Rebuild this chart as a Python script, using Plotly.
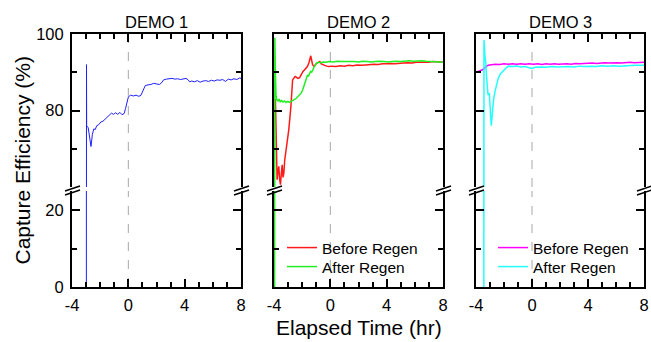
import plotly.graph_objects as go

# ---------------- data ----------------
panel_titles = ["DEMO 1", "DEMO 2", "DEMO 3"]
x_ticks = [-4, 0, 4, 8]
x_tick_text = ["-4", "0", "4", "8"]
x_minor = [-3, -2, -1, 1, 2, 3, 5, 6, 7]
upper_ticks = [80, 100]
upper_minor = [70, 90]
lower_ticks = [0, 20]
lower_minor = [10]

demo1_x = [-2.98, -2.97, -2.96, -2.85, -2.72, -2.65, -2.55, -2.45, -2.35, -2.25, -2.10, -1.95, -1.80, -1.65,
           -1.50, -1.35, -1.20, -1.05, -0.90, -0.75, -0.60, -0.45, -0.30, -0.20, -0.10, 0.00, 0.15, 0.35,
           0.55, 0.75, 0.90, 1.05, 1.20, 1.40, 1.60, 1.80, 2.00, 2.20, 2.35, 2.50, 2.70, 2.90, 3.10, 3.30,
           3.50, 3.70, 3.90, 4.10, 4.25, 4.35, 4.50, 4.70, 4.90, 5.10, 5.30, 5.50, 5.70, 5.90, 6.10, 6.30,
           6.50, 6.70, 6.90, 7.10, 7.30, 7.50, 7.70, 7.90, 8.00]
demo1_y = [0.0, 92.0, 76.0, 75.5, 72.0, 70.6, 73.8, 75.2, 75.0, 76.0, 76.3, 77.0, 77.2, 77.8,
           78.3, 78.8, 79.3, 79.0, 79.4, 79.0, 79.5, 78.9, 79.2, 80.5, 82.5, 83.5, 84.0, 83.8,
           84.0, 83.7, 84.0, 85.5, 86.5, 86.7, 86.8, 87.1, 87.0, 86.8, 87.2, 88.0, 88.2, 88.3, 88.4, 88.2,
           88.3, 88.1, 88.3, 88.4, 88.0, 87.5, 87.7, 87.5, 87.8, 87.4, 87.7, 87.8, 87.6, 87.9, 87.7, 88.0,
           87.9, 88.1, 87.6, 88.2, 88.0, 88.3, 88.1, 88.5, 88.4]

demo2_before_x = [-3.90, -3.86, -3.84, -3.78, -3.72, -3.66, -3.60, -3.54, -3.48, -3.42, -3.36, -3.30, -3.24,
                  -3.10, -2.95, -2.80, -2.68, -2.60, -2.50, -2.42, -2.30, -2.18, -2.06, -1.94, -1.84, -1.74,
                  -1.63, -1.52, -1.45, -1.39, -1.33, -1.26, -1.18, -1.08, -0.99, -0.88, -0.75, -0.64, -0.52,
                  -0.40, -0.25, -0.10, 0.10, 0.40, 0.70, 1.00, 1.30, 1.60, 1.90, 2.20, 2.50, 2.80, 3.10,
                  3.40, 3.70, 4.00, 4.30, 4.60, 4.90, 5.20, 5.50, 5.80, 6.10, 6.40, 6.70, 7.00, 7.30, 7.60,
                  7.90, 8.00]
demo2_before_y = [83.0, 72.0, 67.0, 61.9, 64.0, 65.4, 62.0, 60.6, 63.5, 65.8, 62.5, 63.7, 67.0,
                  71.0, 75.0, 81.0, 88.0, 88.4, 88.9, 88.7, 88.4, 88.6, 89.5, 90.2, 90.6, 91.0,
                  91.5, 92.5, 93.6, 94.3, 93.2, 92.0, 91.6, 91.8, 92.3, 92.6, 92.8, 92.2, 91.9,
                  91.8, 91.6, 91.5, 91.6, 91.5, 91.7, 91.6, 91.8, 91.7, 91.9, 91.8, 91.9, 92.0, 92.1,
                  92.0, 92.2, 92.2, 92.3, 92.2, 92.4, 92.4, 92.5, 92.4, 92.6, 92.6, 92.7, 92.6, 92.8, 92.7,
                  92.7, 92.6]
demo2_after_x = [-3.96, -3.94, -3.90, -3.86, -3.80, -3.72, -3.64, -3.56, -3.46, -3.36, -3.26, -3.14, -3.02,
                 -2.90, -2.78, -2.66, -2.54, -2.42, -2.30, -2.18, -2.06, -1.96, -1.86, -1.78, -1.70, -1.62,
                 -1.56, -1.48, -1.40, -1.32, -1.24, -1.16, -1.08, -0.98, -0.86, -0.70, -0.50, -0.30, -0.10,
                 0.20, 0.50, 0.80, 1.10, 1.40, 1.70, 2.00, 2.30, 2.60, 2.90, 3.20, 3.50, 3.80, 4.10, 4.40,
                 4.70, 5.00, 5.30, 5.60, 5.90, 6.20, 6.50, 6.80, 7.10, 7.40, 7.70, 8.00]
demo2_after_y = [0.0, 99.0, 90.0, 84.0, 82.8, 82.5, 83.0, 82.3, 82.6, 82.2, 82.5, 82.1, 82.4,
                 82.1, 82.3, 82.6, 82.9, 83.2, 83.6, 84.1, 84.6, 85.4, 86.5, 87.6, 88.8, 89.3,
                 88.9, 89.6, 90.2, 90.0, 90.8, 91.5, 91.9, 92.4, 92.6, 92.5, 92.7, 92.6, 92.8,
                 92.7, 92.9, 92.8, 92.8, 92.9, 92.8, 92.7, 92.9, 92.8, 92.7, 92.8, 92.9, 92.8, 92.7, 92.8,
                 92.9, 92.8, 92.9, 93.0, 92.9, 93.0, 93.0, 92.9, 92.8, 92.7, 92.7, 92.6]

demo3_before_x = [-3.92, -3.80, -3.65, -3.50, -3.35, -3.20, -3.05, -2.85, -2.60, -2.30, -2.00, -1.70, -1.40,
                  -1.10, -0.80, -0.50, -0.20, 0.10, 0.40, 0.70, 1.00, 1.30, 1.60, 1.90, 2.20, 2.50, 2.80,
                  3.10, 3.40, 3.70, 4.00, 4.30, 4.60, 4.90, 5.20, 5.50, 5.80, 6.10, 6.40, 6.70, 7.00, 7.30,
                  7.60, 7.90, 8.00]
demo3_before_y = [90.1, 90.3, 90.6, 90.7, 91.2, 91.7, 91.9, 92.0, 92.1, 92.0, 92.2, 92.1, 92.2,
                  92.1, 92.2, 92.1, 92.2, 92.1, 92.2, 92.0, 92.2, 92.1, 92.2, 92.1, 92.2, 92.2, 92.1,
                  92.3, 92.2, 92.3, 92.3, 92.4, 92.3, 92.4, 92.5, 92.4, 92.5, 92.5, 92.4, 92.5, 92.6, 92.5,
                  92.6, 92.6, 92.6]
demo3_after_x = [-3.44, -3.43, -3.40, -3.36, -3.30, -3.25, -3.19, -3.14, -3.10, -3.05, -3.00, -2.95, -2.91,
                 -2.86, -2.81, -2.74, -2.64, -2.52, -2.41, -2.25, -2.05, -1.85, -1.69, -1.40, -1.10, -0.80,
                 -0.50, -0.25, -0.02, 0.25, 0.60, 1.00, 1.40, 1.80, 2.20, 2.60, 3.00, 3.40, 3.80, 4.20,
                 4.60, 5.00, 5.40, 5.80, 6.20, 6.60, 7.00, 7.40, 7.80, 8.00]
demo3_after_y = [0.0, 98.4, 97.0, 94.0, 92.4, 89.0, 86.3, 84.0, 84.3, 84.5, 81.5, 79.3, 76.0,
                 78.0, 80.2, 83.0, 85.0, 87.0, 88.4, 89.6, 90.5, 91.1, 91.6, 91.5, 91.6, 91.4,
                 91.5, 91.3, 91.0, 91.3, 91.4, 91.3, 91.5, 91.4, 91.5, 91.5, 91.4, 91.6, 91.5, 91.6,
                 91.5, 91.7, 91.6, 91.7, 91.6, 91.7, 91.7, 91.8, 91.8, 91.9]

legend_names = ["Before Regen", "After Regen"]

# ---------------- layout helpers ----------------
W, H = 651, 342
FONT = "Arial, 'Liberation Sans', sans-serif"


def px(x):
    return x / W


def py(y):
    return 1 - y / H


panel_px = [(72, 241), (274, 443), (476, 644)]
upper_dom = [py(187), py(34)]
lower_dom = [py(287), py(191)]

panels = [
    [(None, demo1_x, demo1_y, "#1f1fff", 1.0, None)],
    [(legend_names[0], demo2_before_x, demo2_before_y, "#ff1a1a", 1.5, "legend"),
     (legend_names[1], demo2_after_x, demo2_after_y, "#22ee22", 1.5, "legend2")],
    [(legend_names[0], demo3_before_x, demo3_before_y, "#ff00ff", 1.5, "legend3"),
     (legend_names[1], demo3_after_x, demo3_after_y, "#22ffff", 1.5, "legend4")],
]

fig = go.Figure()
layout = {}
shapes = []
annotations = []

tick_common = dict(showline=True, linewidth=2, linecolor="black", ticks="inside", ticklen=8,
                   tickwidth=1.5, tickcolor="black", showgrid=False, zeroline=False, automargin=False,
                   tickfont=dict(family=FONT, size=16.5, color="black"))
minor_common = dict(ticks="inside", ticklen=5, tickwidth=1.5, tickcolor="black", showgrid=False)

for i in range(3):
    lo, up = 2 * i + 1, 2 * i + 2
    x0p, x1p = panel_px[i]
    xdom = [px(x0p), px(x1p)]

    def nm(kind, n):
        return kind + ("" if n == 1 else str(n))

    # lower subplot
    layout[nm("xaxis", lo)] = dict(tick_common, domain=xdom, range=[-4, 8], anchor=nm("y", lo), side="bottom",
                                   tickmode="array", tickvals=x_ticks, ticktext=x_tick_text,
                                   ticklabelstandoff=2,
                                   showticklabels=True, minor=dict(minor_common, tickvals=x_minor))
    layout[nm("yaxis", lo)] = dict(tick_common, domain=lower_dom, range=[0, 25], anchor=nm("x", lo),
                                   mirror="ticks", tickmode="array", tickvals=lower_ticks,
                                   ticklabelstandoff=3,
                                   showticklabels=(i == 0), minor=dict(minor_common, tickvals=lower_minor))
    # upper subplot
    layout[nm("xaxis", up)] = dict(tick_common, domain=xdom, range=[-4, 8], anchor=nm("y", up), side="top",
                                   tickmode="array", tickvals=x_ticks, showticklabels=False,
                                   minor=dict(minor_common, tickvals=x_minor))
    layout[nm("yaxis", up)] = dict(tick_common, domain=upper_dom, range=[60, 100], anchor=nm("x", up),
                                   mirror="ticks", tickmode="array", tickvals=upper_ticks,
                                   ticklabelstandoff=3,
                                   showticklabels=(i == 0), minor=dict(minor_common, tickvals=upper_minor))

    for n in (lo, up):
        shapes.append(dict(type="line", xref=nm("x", n), yref=nm("y", n) + " domain", x0=0, x1=0, y0=0, y1=1,
                           line=dict(color="#a8a8a8", width=1, dash="dash"), layer="below"))

    for name, xs, ys, color, lw, leg in panels[i]:
        for n in (lo, up):
            tr = dict(x=xs, y=ys, mode="lines", line=dict(color=color, width=lw),
                      xaxis=nm("x", n), yaxis=nm("y", n), hoverinfo="skip")
            if name is not None and n == lo:
                tr.update(name=name, showlegend=True, legend=leg)
            else:
                tr.update(showlegend=False)
            fig.add_trace(go.Scatter(**tr))

    # break marks on left and right axes
    for xa in (x0p, x1p):
        for dy in (0, 4):
            shapes.append(dict(type="line", xref="paper", yref="paper",
                               x0=px(xa - 7), y0=py(191 + dy), x1=px(xa + 8), y1=py(186 + dy),
                               line=dict(color="black", width=1.5), layer="above"))

    annotations.append(dict(text=panel_titles[i], xref="paper", yref="paper", x=px((x0p + x1p) / 2),
                            y=py(21.5), xanchor="center", yanchor="middle", showarrow=False,
                            font=dict(family=FONT, size=16.5, color="black")))

annotations.append(dict(text="Capture Efficiency (%)", xref="paper", yref="paper", x=px(22), y=py(160.5),
                        xanchor="center", yanchor="middle", textangle=-90, showarrow=False,
                        font=dict(family=FONT, size=21, color="black")))
annotations.append(dict(text="Elapsed Time (hr)", xref="paper", yref="paper", x=px(359), y=py(327),
                        xanchor="center", yanchor="middle", showarrow=False,
                        font=dict(family=FONT, size=21, color="black")))

legend_common = dict(xanchor="left", yanchor="top", bgcolor="rgba(0,0,0,0)", borderwidth=0,
                     font=dict(family=FONT, size=15.5, color="black"), tracegroupgap=0, itemwidth=30)

fig.update_layout(
    template="none",
    width=W, height=H, margin=dict(l=0, r=0, t=0, b=0, autoexpand=False),
    paper_bgcolor="white", plot_bgcolor="white",
    font=dict(family=FONT, color="black"),
    shapes=shapes, annotations=annotations,
    legend=dict(legend_common, x=px(282), y=py(231)),
    legend2=dict(legend_common, x=px(282), y=py(250)),
    legend3=dict(legend_common, x=px(493), y=py(231)),
    legend4=dict(legend_common, x=px(493), y=py(250)),
    **layout,
)

fig.write_html("out.html")
